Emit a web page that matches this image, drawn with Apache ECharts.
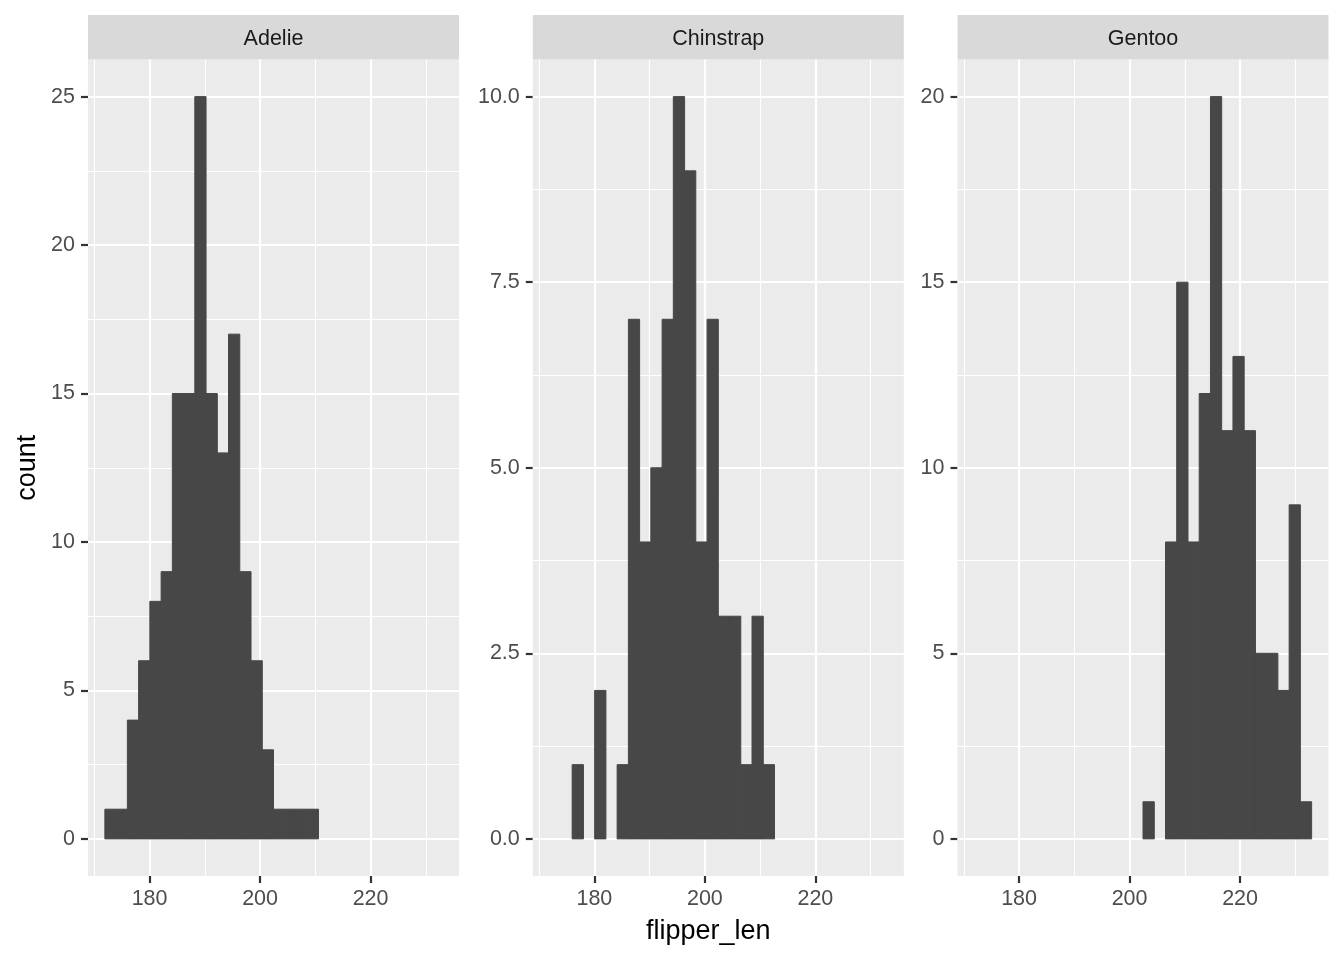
<!DOCTYPE html>
<html><head><meta charset="utf-8">
<script src="https://cdn.jsdelivr.net/npm/echarts@6/dist/echarts.min.js"></script>
<style>html,body{margin:0;padding:0;background:#fff}#c{width:1344px;height:960px}</style>
</head><body><div id="c"></div>
<script>
// ---- data ----
const species = ['Adelie', 'Chinstrap', 'Gentoo'];
const binEdges = [171.91, 173.95, 175.98, 178.02, 180.05, 182.09, 184.12, 186.16, 188.19, 190.22,
  192.26, 194.29, 196.33, 198.36, 200.40, 202.43, 204.47, 206.50, 208.53, 210.57,
  212.60, 214.64, 216.67, 218.71, 220.74, 222.78, 224.81, 226.84, 228.88, 230.91, 232.95];
const adelieCounts =    [1,1,4,6,8,9,15,15,25,15,13,17,9,6,3,1,1,1,1,0,0,0,0,0,0,0,0,0,0,0];
const chinstrapCounts = [0,0,1,0,2,0,1,7,4,5,7,10,9,4,7,3,3,1,3,1,0,0,0,0,0,0,0,0,0,0];
const gentooCounts =    [0,0,0,0,0,0,0,0,0,0,0,0,0,0,0,1,0,8,15,8,12,20,11,13,11,5,5,4,9,1];
const xTicks = [180, 200, 220];
const xMinor = [170, 190, 210, 230];
const adelieYTicks = [0, 5, 10, 15, 20, 25];
const adelieYMinor = [2.5, 7.5, 12.5, 17.5, 22.5];
const chinstrapYTicks = [0, 2.5, 5, 7.5, 10];
const chinstrapYMinor = [1.25, 3.75, 6.25, 8.75];
const gentooYTicks = [0, 5, 10, 15, 20];
const gentooYMinor = [2.5, 7.5, 12.5, 17.5];
const xTitle = 'flipper_len';
const yTitle = 'count';

// ---- layout / style ----
const FONT = '"Liberation Sans", Arial, Helvetica, sans-serif';
const panelLefts = [88, 532.8, 957.5];
const panelW = 371, panelTop = 59.5, panelH = 816.5;
const stripTop = 15, stripH = 44.5;
const counts = [adelieCounts, chinstrapCounts, gentooCounts];
const yTicks = [adelieYTicks, chinstrapYTicks, gentooYTicks];
const yMinor = [adelieYMinor, chinstrapYMinor, gentooYMinor];
const yFmt = [v => String(v), v => v.toFixed(1), v => String(v)];

const xLo = binEdges[0], xHi = binEdges[binEdges.length - 1];
const xPad = (xHi - xLo) * 0.05;

const grids = [], xAxes = [], yAxes = [], series = [], graphics = [];
species.forEach((sp, i) => {
  grids.push({left: panelLefts[i], top: panelTop, width: panelW, height: panelH,
    show: true, backgroundColor: '#EBEBEB', borderWidth: 0, containLabel: false});
  xAxes.push({type: 'value', gridIndex: i, min: xLo - xPad, max: xHi + xPad,
    axisLine: {show: false, onZero: false}, splitLine: {show: false},
    axisTick: {show: true, length: 7, customValues: xTicks, lineStyle: {color: '#333333', width: 2.2}},
    axisLabel: {customValues: xTicks, margin: 12, color: '#4D4D4D', fontSize: 21.5, fontFamily: FONT}});
  const ymax = Math.max(...counts[i]);
  yAxes.push({type: 'value', gridIndex: i, min: -ymax * 0.05, max: ymax * 1.05,
    axisLine: {show: false, onZero: false}, splitLine: {show: false},
    axisTick: {show: true, length: 7, customValues: yTicks[i], lineStyle: {color: '#333333', width: 2.2}},
    axisLabel: {customValues: yTicks[i], margin: 13, color: '#4D4D4D', fontSize: 21.5, fontFamily: FONT,
      formatter: yFmt[i]}});
  const data = [];
  counts[i].forEach((c, k) => { if (c > 0) data.push([binEdges[k], binEdges[k + 1], c]); });
  const ml = [];
  xMinor.forEach(v => ml.push({xAxis: v, lineStyle: {width: 1.1}}));
  yMinor[i].forEach(v => ml.push({yAxis: v, lineStyle: {width: 1.1}}));
  xTicks.forEach(v => ml.push({xAxis: v, lineStyle: {width: 2.2}}));
  yTicks[i].forEach(v => ml.push({yAxis: v, lineStyle: {width: 2.2}}));
  series.push({
    type: 'custom', name: sp, xAxisIndex: i, yAxisIndex: i, data: data,
    encode: {x: [0, 1], y: 2}, z: 2,
    renderItem: (params, api) => {
      const p0 = api.coord([api.value(0), 0]);
      const p1 = api.coord([api.value(1), api.value(2)]);
      return {type: 'rect', shape: {x: p0[0], y: p1[1], width: p1[0] - p0[0], height: p0[1] - p1[1]},
        style: {fill: '#474747', stroke: '#474747', lineWidth: 1}};
    },
    markLine: {silent: true, symbol: 'none', z: 1, animation: false,
      label: {show: false}, emphasis: {disabled: true},
      lineStyle: {color: '#FFFFFF', type: 'solid', opacity: 1}, data: ml}
  });
  graphics.push({type: 'rect', left: panelLefts[i], top: stripTop,
    shape: {width: panelW, height: stripH}, style: {fill: '#D9D9D9'}, z: 0});
  graphics.push({type: 'text', x: panelLefts[i] + panelW / 2, y: stripTop + stripH / 2 + 2,
    style: {text: sp, fill: '#1A1A1A', font: '21.5px ' + FONT, textAlign: 'center', textVerticalAlign: 'middle'}, z: 1});
});
graphics.push({type: 'text', x: (panelLefts[0] + panelLefts[2] + panelW) / 2, y: 932,
  style: {text: xTitle, fill: '#000000', font: '27px ' + FONT, textAlign: 'center', textVerticalAlign: 'middle'}});
graphics.push({type: 'text', x: 28, y: panelTop + panelH / 2, rotation: Math.PI / 2,
  style: {text: yTitle, fill: '#000000', font: '27px ' + FONT, textAlign: 'center', textVerticalAlign: 'middle'}});

const chart = echarts.init(document.getElementById('c'), null, {renderer: 'canvas'});
chart.setOption({animation: false, backgroundColor: '#FFFFFF',
  grid: grids, xAxis: xAxes, yAxis: yAxes, series: series, graphic: graphics});
</script></body></html>
